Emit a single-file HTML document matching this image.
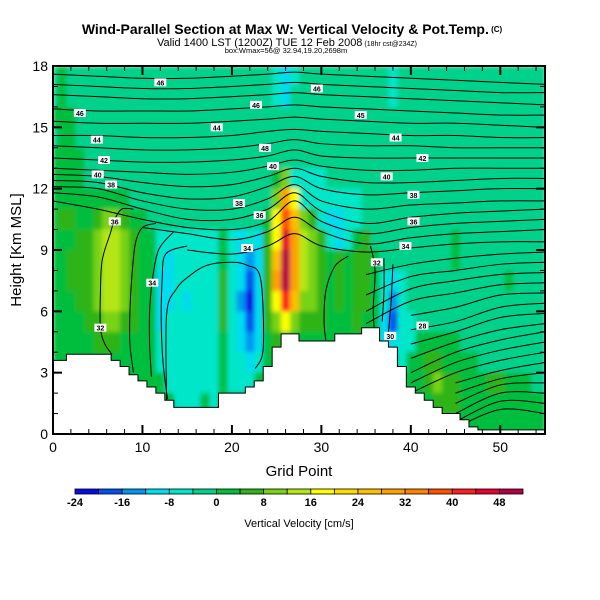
<!DOCTYPE html>
<html><head><meta charset="utf-8"><style>
html,body{margin:0;padding:0;background:#fff;}
svg{display:block;font-family:"Liberation Sans",Arial,sans-serif;}
</style></head><body>
<svg id="chart" width="600" height="600" viewBox="0 0 600 600" xmlns="http://www.w3.org/2000/svg">
<defs>
<clipPath id="plotclip"><rect x="53" y="66" width="492" height="368"/></clipPath>
<filter id="soft" x="53" y="66" width="492" height="368" filterUnits="userSpaceOnUse"><feGaussianBlur stdDeviation="2.2" edgeMode="duplicate"/></filter>
</defs>
<text x="292" y="34" text-anchor="middle" font-size="14" font-weight="bold">Wind-Parallel Section at Max W: Vertical Velocity &amp; Pot.Temp.<tspan font-size="8" dy="-2"> (C)</tspan></text>
<text x="287" y="46" text-anchor="middle" font-size="11">Valid 1400 LST (1200Z) TUE 12 Feb 2008<tspan font-size="7"> (18hr cst@234Z)</tspan></text>
<text x="286" y="53" text-anchor="middle" font-size="7.5">box:Wmax=56@ 32.94,19.20,2698m</text>
<g clip-path="url(#plotclip)"><g id="field" filter="url(#soft)"></g></g>
<g id="contours" clip-path="url(#plotclip)" fill="none" stroke="#000" stroke-width="1"></g>
<g id="terrain"></g>
<g id="labels"></g>
<g id="axes"></g>
<rect x="53" y="66" width="492" height="368" fill="none" stroke="#000" stroke-width="2"/>
<text x="299" y="476" text-anchor="middle" font-size="15">Grid Point</text>
<text transform="translate(21,250) rotate(-90)" text-anchor="middle" font-size="15">Height [Km MSL]</text>
<g id="colorbar"></g>
<text x="299" y="527" text-anchor="middle" font-size="11">Vertical Velocity [cm/s]</text>
</svg>
<script>
const NS="http://www.w3.org/2000/svg";
const colorLevels=[-24,-20,-16,-12,-8,-4,0,4,8,12,16,20,24,28,32,36,40,44,48];
const colorFills=["#0a0ae6","#0050f0","#0096f0","#00dcf0","#00e6c8","#00d28c","#00be3c","#2db414","#78d214","#b4e614","#ffff00","#ffdc00","#ffbe00","#ffa000","#ff8200","#ff5000","#ff1e1e","#e60032","#b40046"];
const colorbarTicks=[-24,-16,-8,0,8,16,24,32,40,48];
const xTicks=[0,10,20,30,40,50];
const yTicks=[0,3,6,9,12,15,18];
const terrainHeights=[3.6,3.6,3.9,3.9,3.9,3.9,3.9,3.6,3.3,2.9,2.6,2.3,2.0,1.65,1.3,1.3,1.3,1.3,1.3,2.0,2.0,2.0,2.3,2.6,3.3,4.25,4.9,4.9,4.55,4.55,4.55,4.55,4.9,4.9,4.9,5.2,5.2,4.55,4.25,3.3,2.3,2.0,1.65,1.3,1.0,1.0,0.7,0.35,0.2,0.2,0.2,0.2,0.2,0.2,0.2,0.2];
// rows from top (17-18 km) to bottom (0-1 km), 56 grid points each
const wField=[
[-2,2,-2,-2,-2,-2,-2,-2,-2,-2,-2,-2,-2,-2,-2,-2,-2,-2,-2,-2,-2,-2,-2,-2,-2,-6,-10,-6,-2,-2,-2,-2,-2,-2,-2,-2,-2,-2,-6,-2,-2,-2,-2,-2,-2,-2,-2,-2,-2,-2,-2,-2,-2,-2,-2,-2],
[-2,2,-2,-2,-2,-2,-2,-2,-2,-2,-2,-2,-2,-2,-2,-2,-2,-2,-2,-2,-2,-2,-2,-2,-2,-6,-10,-2,-2,-2,-2,-2,-2,-2,-2,-2,-2,-2,-6,-2,-2,-2,-2,-2,-2,-2,-2,-2,-2,-2,-2,-2,-2,-2,-2,-2],
[2,2,2,-2,-2,-2,-2,-2,-2,-2,-2,-2,-2,-2,-2,-2,-2,-2,-2,-2,-2,-2,-2,-2,-2,-2,-2,-2,-2,-2,-2,-2,-2,-2,-2,-2,-2,-2,-2,-2,-2,-2,-2,-2,-2,-2,-2,-2,-2,-2,-2,-2,-2,-2,-2,-2],
[-2,2,2,-2,-2,-2,-2,-2,-2,-2,-2,-2,-2,-2,-2,-2,-2,-2,-2,-2,-2,-2,-2,-2,-2,-2,-2,-2,-2,-2,-2,-2,-2,-2,-2,-2,-2,-2,-2,-2,-2,-2,-2,-2,-2,-2,-2,-2,-2,-2,-2,-2,-2,-2,-2,-2],
[2,2,2,2,-2,-2,-2,-2,-2,-2,-2,-2,-2,-2,-2,-2,-2,-2,-2,-2,-2,-2,-2,-2,-2,-2,-2,-2,-2,-2,-2,-2,-2,-2,-2,-2,-2,-2,-2,-2,-2,-2,-2,-2,-2,-2,-2,-2,-2,-2,-2,-2,-2,-2,-2,-2],
[2,2,2,2,-2,-2,-2,-2,-2,-2,-2,-2,-2,-2,-2,-2,-2,-2,-2,-2,-2,-2,-2,-2,-2,2,10,-6,-6,-6,-6,-2,-2,-2,-2,-2,-2,-2,-2,-2,-2,-2,-2,-2,-2,-2,-2,-2,-2,-2,-2,-2,-2,-2,-2,-2],
[2,2,2,2,2,2,2,2,2,-2,-2,-2,-2,-2,-2,-2,-2,-2,-2,-2,-2,-2,-2,-2,-2,10,28,18,-6,-6,-6,-6,-6,-6,-6,-2,-2,-2,-2,-2,-2,-2,-2,-2,-2,-2,-2,-2,-2,-2,-2,-2,-2,-2,-2,-2],
[2,6,6,2,2,6,10,10,6,2,2,-2,-2,-2,-2,-2,-2,-2,-2,-2,-2,-2,-2,-2,2,18,36,24,10,6,-6,-10,-10,-6,-6,-2,-2,-2,-2,-2,-2,-2,-2,-2,-2,-2,-2,-2,-2,-2,-2,-2,-2,-2,-2,-2],
[2,2,2,6,6,10,14,14,10,6,2,2,-6,-6,-6,-6,-6,-6,-6,2,-6,-10,-6,-10,6,18,44,28,14,10,6,-6,-10,-6,2,6,-2,-2,-2,-2,-2,-2,-2,-2,-2,2,-2,-2,-2,-2,-2,-2,-2,-2,-2,-2],
[2,2,6,6,6,10,14,14,10,6,2,2,-6,-10,-6,-6,-6,-6,-6,2,-6,-10,-14,-10,6,24,48,28,14,10,6,2,6,2,6,6,2,-2,-2,-2,-2,-2,-2,-2,-2,2,-2,-2,-2,-2,-2,-2,-2,-2,-2,-2],
[2,2,6,6,6,10,14,14,10,6,2,2,-10,-10,-6,-6,-6,-6,-6,6,-6,-10,-18,-10,6,28,48,28,14,10,6,2,6,2,6,6,2,-6,-10,-6,-2,-2,-2,-2,-2,-2,-2,-2,-2,-2,-2,2,-2,-2,-2,-2],
[2,2,2,6,6,10,14,14,10,6,2,2,-10,-10,-6,-10,-6,-6,-6,6,-6,-14,-22,-10,6,18,40,24,10,10,6,2,6,2,6,6,2,-6,-14,-6,-2,-2,-2,-2,-2,-2,-2,-2,-2,-2,-2,-2,-2,-2,-2,-2],
[2,2,2,2,6,6,10,10,6,6,2,2,-10,-6,-6,-6,-6,-6,-6,6,-6,-10,-18,-10,6,10,18,10,6,6,6,2,2,2,6,2,2,-10,-18,-6,-6,-2,-2,-2,-2,-2,-2,-2,-2,-2,-2,-2,-2,-2,-2,-2],
[2,2,2,2,2,6,6,6,2,2,2,2,-6,-6,-6,-6,-6,-6,-6,2,-6,-10,-14,-10,2,6,2,2,2,2,2,2,2,2,2,2,2,-10,-10,-6,-6,2,2,2,2,2,-2,-2,-2,-2,-2,-2,-2,-2,-2,-2],
[2,2,2,2,2,2,2,2,2,2,2,2,-6,-6,-6,-6,-6,-6,-6,2,-6,-6,-10,-6,2,2,2,2,2,2,2,2,2,2,2,2,2,2,2,-6,2,2,6,6,2,2,2,2,-2,-2,-2,-2,-2,-2,-2,-2],
[2,2,2,2,2,2,2,2,2,2,2,2,2,-6,-6,-6,-6,-6,-6,2,-6,-6,-6,2,2,2,2,2,2,2,2,2,2,2,2,2,2,2,2,2,2,2,6,10,6,6,2,2,2,6,6,2,2,2,-2,-2],
[2,2,2,2,2,2,2,2,2,2,2,2,2,2,-6,-6,-6,2,-6,2,2,2,2,2,2,2,2,2,2,2,2,2,2,2,2,2,2,2,2,2,2,2,2,6,6,6,2,2,2,2,2,2,2,2,2,2],
[2,2,2,2,2,2,2,2,2,2,2,2,2,2,2,2,2,2,2,2,2,2,2,2,2,2,2,2,2,2,2,2,2,2,2,2,2,2,2,2,2,2,2,2,2,2,2,2,2,2,2,2,2,2,2,2]
];
const thetaKnotsG=[0,5,10,15,20,24,27,30,35,40,45,50,55];
const thetaLevels=[49,48,47,46,45,44,43,42,41,40,39,38,37,36,35,34,33,32,31,30,29,28,27,26,25,24,23,22,21,20,19,18,17];
const thetaHeights=[
[17.6,17.5,17.4,17.4,17.5,17.6,17.7,17.6,17.5,17.4,17.3,17.2,17.1],
[17.1,17.0,16.9,16.9,17.0,17.1,17.2,17.1,17.0,16.9,16.8,16.7,16.7],
[16.6,16.5,16.4,16.4,16.5,16.6,16.7,16.6,16.5,16.4,16.3,16.2,16.1],
[15.9,15.8,15.8,15.8,15.9,16.0,16.1,16.0,15.9,15.8,15.7,15.6,15.6],
[15.3,15.2,15.2,15.2,15.3,15.4,15.5,15.4,15.3,15.2,15.2,15.1,15.0],
[14.6,14.6,14.5,14.5,14.6,14.8,14.9,14.8,14.7,14.6,14.6,14.5,14.5],
[14.1,14.0,13.9,13.9,14.0,14.2,14.4,14.2,14.1,14.1,14.0,14.0,14.0],
[13.5,13.4,13.3,13.3,13.4,13.6,13.9,13.6,13.5,13.5,13.5,13.5,13.5],
[13.0,12.9,12.8,12.7,12.8,13.1,13.4,13.1,12.9,12.9,13.0,13.0,13.0],
[12.7,12.6,12.3,12.1,12.2,12.6,13.0,12.6,12.3,12.3,12.4,12.5,12.5],
[12.4,12.3,11.8,11.5,11.6,12.1,12.6,12.0,11.7,11.8,11.9,12.0,12.0],
[12.1,12.0,11.4,11.0,11.0,11.5,12.2,11.4,11.0,11.2,11.3,11.4,11.4],
[11.8,11.6,11.0,10.5,10.5,11.0,11.8,10.9,10.3,10.6,10.8,10.9,11.0],
[11.4,11.0,10.5,10.1,10.0,10.4,11.4,10.4,9.8,10.1,10.3,10.4,10.5],
[null,null,10.1,9.8,9.5,9.9,10.6,9.9,9.3,9.6,9.8,9.9,10.0],
[null,null,null,9.0,8.8,9.2,9.8,9.2,8.9,9.1,9.3,9.4,9.4],
[null,null,null,null,null,null,null,null,7.8,8.3,8.6,8.8,8.9],
[null,null,null,null,null,null,null,null,6.8,7.7,8.0,8.3,8.4],
[null,null,null,null,null,null,null,null,6.0,7.1,7.5,7.8,7.9],
[null,null,null,null,null,null,null,null,5.4,6.5,6.9,7.3,7.4],
[null,null,null,null,null,null,null,null,null,5.8,6.2,6.8,6.9],
[null,null,null,null,null,null,null,null,null,5.1,5.5,6.2,6.4],
[null,null,null,null,null,null,null,null,null,4.4,5.0,5.7,5.9],
[null,null,null,null,null,null,null,null,null,3.7,4.5,5.1,5.4],
[null,null,null,null,null,null,null,null,null,3.0,4.0,4.6,5.0],
[null,null,null,null,null,null,null,null,null,2.5,3.5,4.1,4.5],
[null,null,null,null,null,null,null,null,null,2.0,3.0,3.6,4.0],
[null,null,null,null,null,null,null,null,null,null,2.5,3.1,3.5],
[null,null,null,null,null,null,null,null,null,null,2.0,2.7,3.0],
[null,null,null,null,null,null,null,null,null,null,1.5,2.4,2.5],
[null,null,null,null,null,null,null,null,null,null,1.0,2.0,2.0],
[null,null,null,null,null,null,null,null,null,null,0.6,1.6,1.5],
[null,null,null,null,null,null,null,null,null,null,0.3,1.2,1.0]
];
// mixed-layer contour paths, points as [grid point, height km]
const mixedPaths=[
[[9,11.0],[7.7,11.0],[6.9,10.5],[6.4,9.8],[5.5,8.5],[5.3,6.9],[5.3,5.2],[5.8,4.4],[6.6,3.9]],
[[11.5,10.3],[10,10.1],[9.2,9.3],[8.8,7.6],[8.6,6.0],[8.6,4.4],[9.0,3.0]],
[[13.5,9.9],[11.8,9.0],[11.1,7.5],[10.8,6.0],[10.8,4.4],[11.0,2.8]],
[[15,9.2],[12.6,8.8],[12.2,7.5],[12.1,5.5],[12.3,3.5],[12.8,1.7]],
[[12.7,1.6],[12.7,5.85],[13.8,7.1],[15.3,7.75],[17.2,8.25],[19.8,8.4],[21.7,8.25],[23.2,7.6],[23.5,4.2],[22.6,3.2]],
[[33,8.7],[31.5,8.2],[30.5,7],[30.3,5.5],[30.5,4.6]],
[[35.5,9.2],[36,8],[35.8,6.2],[35.9,5.2]],
[[37,8.6],[37,7],[36.8,5.5]],
[[38,8.3],[37.8,6.5],[37.5,5]]
];
const labelTexts=["46","46","44","42","40","38","36","32","34","44","46","48","40","38","36","34","46","45","44","42","40","38","36","34","32","28","30"];
const labelG=[12,3,4.9,5.7,5,6.5,6.9,5.3,11.1,18.3,22.7,23.7,24.6,20.8,23.1,21.7,29.5,34.4,38.3,41.3,37.3,40.3,40.3,39.4,36.2,41.3,37.7];
const labelH=[17.2,15.7,14.4,13.4,12.7,12.2,10.4,5.2,7.4,15.0,16.1,14.0,13.1,11.3,10.7,9.1,16.9,15.6,14.5,13.5,12.6,11.7,10.4,9.2,8.4,5.3,4.8];

const X=g=>53+g*(492/55);
const Y=h=>434-h*(368/18);
const colorFor=v=>{let i=0;for(let k=0;k<colorLevels.length;k++){if(v>=colorLevels[k])i=k;}return colorFills[i];};
function mk(tag,attrs,parent){const e=document.createElementNS(NS,tag);for(const k in attrs)e.setAttribute(k,attrs[k]);parent.appendChild(e);return e;}

const field=document.getElementById('field');
for(let r=0;r<wField.length;r++){
  const h=wField.length-1-r;
  for(let g=0;g<wField[r].length;g++){
    const x0=X(Math.max(0,g-0.5)),x1=X(Math.min(55,g+0.5));
    const c=mk('rect',{x:x0,y:Y(h+1),width:x1-x0+0.6,height:Y(h)-Y(h+1)+0.6,fill:colorFor(wField[r][g]),'shape-rendering':'crispEdges'},field);
    
    
  }
}
const cont=document.getElementById('contours');
function smoothPath(pts){
  let d='M'+pts[0][0]+','+pts[0][1];
  for(let i=0;i<pts.length-1;i++){
    const p0=pts[Math.max(0,i-1)],p1=pts[i],p2=pts[i+1],p3=pts[Math.min(pts.length-1,i+2)];
    const c1=[p1[0]+(p2[0]-p0[0])/6,p1[1]+(p2[1]-p0[1])/6];
    const c2=[p2[0]-(p3[0]-p1[0])/6,p2[1]-(p3[1]-p1[1])/6];
    d+=' C'+c1[0]+','+c1[1]+' '+c2[0]+','+c2[1]+' '+p2[0]+','+p2[1];
  }
  return d;
}
for(let i=0;i<thetaLevels.length;i++){
  const pts=[];
  for(let k=0;k<thetaKnotsG.length;k++){const h=thetaHeights[i][k];if(h!==null)pts.push([X(thetaKnotsG[k]),Y(h)]);}
  if(pts.length<2)continue;
  const p=mk('path',{d:smoothPath(pts)},cont);
  
  
}
for(let i=0;i<mixedPaths.length;i++){
  const pts=mixedPaths[i].map(q=>[X(q[0]),Y(q[1])]);
  const p=mk('path',{d:smoothPath(pts)},cont);
  
  
}
const ter=document.getElementById('terrain');
let td='M'+X(0)+','+Y(0);
for(let g=0;g<terrainHeights.length;g++){
  td+=' L'+X(Math.max(0,g-0.5))+','+Y(terrainHeights[g])+' L'+X(Math.min(55,g+0.5))+','+Y(terrainHeights[g]);
}
td+=' L'+X(55)+','+Y(0)+' Z';
const tp=mk('path',{d:td,fill:'#fff',stroke:'#000','stroke-width':1},ter);


const lab=document.getElementById('labels');
for(let i=0;i<labelTexts.length;i++){
  const x=X(labelG[i]),y=Y(labelH[i]);
  const r=mk('rect',{x:x-6,y:y-4,width:12,height:8,fill:'#fff'},lab);
  
  
  const t=mk('text',{x:x,y:y+3,'text-anchor':'middle','font-size':7,'font-weight':'bold'},lab);
  t.textContent=labelTexts[i];
  
  
}
const ax=document.getElementById('axes');
for(let g=0;g<=54;g+=2){
  const major=g%10===0,len=major?9:5;
  const a=mk('line',{x1:X(g),x2:X(g),y1:434,y2:434-len,stroke:'#000','stroke-width':major?2:1},ax);
  
  
  const b=mk('line',{x1:X(g),x2:X(g),y1:66,y2:66+len,stroke:'#000','stroke-width':major?2:1},ax);
  
  
}
for(const v of xTicks){
  const t=mk('text',{x:X(v),y:452,'text-anchor':'middle','font-size':14},ax);
  t.textContent=v;
  
  
}
for(let h=0;h<=18;h++){
  const major=h%3===0,len=major?9:5;
  const a=mk('line',{x1:53,x2:53+len,y1:Y(h),y2:Y(h),stroke:'#000','stroke-width':major?2:1},ax);
  
  
  const b=mk('line',{x1:545,x2:545-len,y1:Y(h),y2:Y(h),stroke:'#000','stroke-width':major?2:1},ax);
  
  
}
for(const v of yTicks){
  const t=mk('text',{x:48,y:Y(v)+5,'text-anchor':'end','font-size':14},ax);
  t.textContent=v;
  
  
}
const cb=document.getElementById('colorbar');
const cbX=v=>75+(v+24)*(448/76);
for(let i=0;i<colorLevels.length;i++){
  const s=mk('rect',{x:cbX(colorLevels[i]),y:489,width:448/19,height:5,fill:colorFills[i],stroke:'#000','stroke-width':0.8},cb);
  
  
}
for(const v of colorbarTicks){
  const t=mk('text',{x:cbX(v),y:506,'text-anchor':'middle','font-size':11,'font-weight':'bold'},cb);
  t.textContent=v;
  
  
}
</script>
</body></html>
